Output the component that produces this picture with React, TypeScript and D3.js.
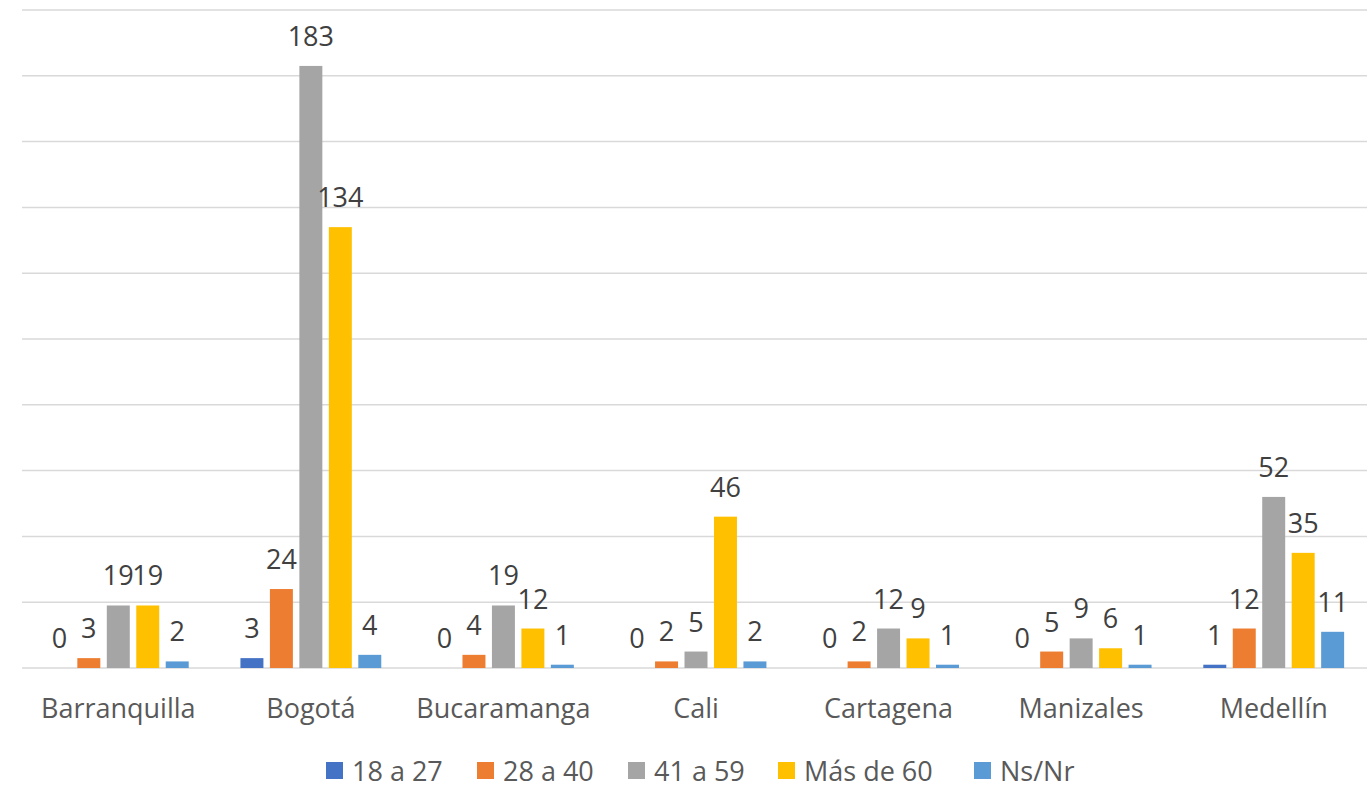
import React from "react";
import * as d3 from "d3";

const categories = ["Barranquilla", "Bogotá", "Bucaramanga", "Cali", "Cartagena", "Manizales", "Medellín"];
const seriesNames = ["18 a 27", "28 a 40", "41 a 59", "Más de 60", "Ns/Nr"];
const seriesColors = ["#4472C4", "#ED7D31", "#A5A5A5", "#FFC000", "#5B9BD5"];
const s18a27 = [0, 3, 0, 0, 0, 0, 1];
const s28a40 = [3, 24, 4, 2, 2, 5, 12];
const s41a59 = [19, 183, 19, 5, 12, 9, 52];
const sMas60 = [19, 134, 12, 46, 9, 6, 35];
const sNsNr = [2, 4, 1, 2, 1, 1, 11];
const yTicks = [0, 20, 40, 60, 80, 100, 120, 140, 160, 180, 200];

const seriesValues = [s18a27, s28a40, s41a59, sMas60, sNsNr];

const W = 1367;
const H = 785;
const FONT = "'Open Sans', sans-serif";
const FS = 27;

export default function App() {
  const left = 22;
  const right = 1370;
  const top = 10;
  const bottom = 668;

  const x = d3.scaleBand<string>().domain(categories).range([left, right]).paddingInner(0).paddingOuter(0);
  const groupWidth = x.bandwidth() * 0.765;
  const x1 = d3
    .scaleBand<string>()
    .domain(seriesNames)
    .range([(x.bandwidth() - groupWidth) / 2, (x.bandwidth() + groupWidth) / 2])
    .paddingInner(0.22)
    .paddingOuter(0.11);
  const y = d3.scaleLinear().domain([0, 200]).range([bottom, top]);

  const legendX = [326, 477, 628, 778, 974];

  return (
    <svg width={W} height={H} style={{ position: "absolute", left: 0, top: 0, background: "#fff" }}>
      <rect x={0} y={0} width={W} height={H} fill="#fff" />
      {yTicks.map((t) => (
        <line key={t} x1={left} x2={W} y1={y(t)} y2={y(t)} stroke="#D9D9D9" strokeWidth={1.5} />
      ))}
      {categories.map((c, ci) => (
        <g key={c} transform={`translate(${x(c)},0)`}>
          {seriesNames.map((s, si) => {
            const v = seriesValues[si][ci];
            const bx = x1(s)!;
            return (
              <g key={s}>
                {v > 0 && (
                  <rect x={bx} y={y(v)} width={x1.bandwidth()} height={bottom - y(v)} fill={seriesColors[si]} />
                )}
                <text
                  x={bx + x1.bandwidth() / 2}
                  y={y(v) - 20}
                  textAnchor="middle"
                  fontFamily={FONT}
                  fontSize={FS}
                  fill="#404040"
                >
                  {v}
                </text>
              </g>
            );
          })}
          <text
            x={x.bandwidth() / 2}
            y={718}
            textAnchor="middle"
            fontFamily={FONT}
            fontSize={FS}
            fill="#595959"
          >
            {c}
          </text>
        </g>
      ))}
      {seriesNames.map((s, si) => (
        <g key={s} transform={`translate(${legendX[si]},0)`}>
          <rect x={0} y={762} width={17} height={17} fill={seriesColors[si]} />
          <text x={26} y={781} fontFamily={FONT} fontSize={FS} fill="#595959">
            {s}
          </text>
        </g>
      ))}
    </svg>
  );
}
